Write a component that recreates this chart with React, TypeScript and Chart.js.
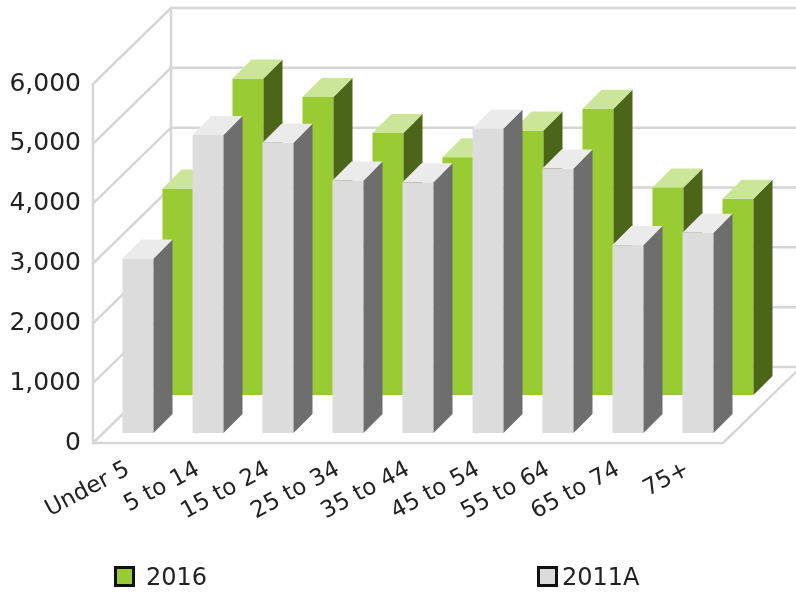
import React, { useEffect, useRef } from "react";
import { Chart, registerables } from "chart.js";

Chart.register(...registerables);

const categories = ["Under 5", "5 to 14", "15 to 24", "25 to 34", "35 to 44", "45 to 54", "55 to 64", "65 to 74", "75+"];
const series2016 = [3450, 5290, 4980, 4380, 3975, 4420, 4785, 3470, 3280];
const series2011A = [2915, 4980, 4850, 4220, 4190, 5090, 4420, 3140, 3345];
const yTicks = [0, 1000, 2000, 3000, 4000, 5000, 6000];

const FONT = "'DejaVu Sans', Verdana, sans-serif";
const TEXT = "#222222";
const WALL = "#d6d6d6";

// 3D geometry (pixels)
const WALL_DX = 78;
const WALL_DY = -76;
const BAR_DEPTH = 19;
const ROW_OFFSETS = [
  { ox: 50, oy: -48 }, // 2016 (back row)
  { ox: 10, oy: -10 }, // 2011A (front row)
];
const COLORS = [
  { front: "#99cc33", side: "#4c6619", top: "#cce699" },
  { front: "#dcdcdc", side: "#6e6e6e", top: "#ebebeb" },
];

const threeD = {
  id: "threeD",
  beforeDatasetsDraw(chart: any) {
    const { ctx, chartArea, scales } = chart;
    const ys = scales.y;
    const left = chartArea.left;
    const right = chartArea.right;
    const base = ys.getPixelForValue(0);
    ctx.save();
    ctx.strokeStyle = WALL;
    ctx.lineWidth = 2.5;
    ctx.lineCap = "round";
    yTicks.forEach((v) => {
      const yp = ys.getPixelForValue(v);
      ctx.beginPath();
      ctx.moveTo(left, yp);
      ctx.lineTo(left + WALL_DX, yp + WALL_DY);
      ctx.lineTo(right + WALL_DX, yp + WALL_DY);
      ctx.stroke();
    });
    const top = ys.getPixelForValue(yTicks[yTicks.length - 1]);
    ctx.beginPath();
    ctx.moveTo(left, top);
    ctx.lineTo(left, base);
    ctx.stroke();
    ctx.beginPath();
    ctx.moveTo(left + WALL_DX, top + WALL_DY);
    ctx.lineTo(left + WALL_DX, base + WALL_DY);
    ctx.stroke();
    ctx.beginPath();
    ctx.moveTo(left, base);
    ctx.lineTo(right, base);
    ctx.lineTo(right + WALL_DX, base + WALL_DY);
    ctx.stroke();
    ctx.restore();

    ctx.save();
    [0, 1].forEach((di) => {
      const meta = chart.getDatasetMeta(di);
      const { ox, oy } = ROW_OFFSETS[di];
      const c = COLORS[di];
      const d = BAR_DEPTH;
      meta.data.forEach((el: any) => {
        const p = el.getProps(["x", "y", "base", "width"], true);
        const l = p.x - p.width / 2 + ox;
        const r = p.x + p.width / 2 + ox;
        const t = p.y + oy;
        const b = p.base + oy;
        ctx.fillStyle = c.front;
        ctx.fillRect(l, t, r - l, b - t);
        ctx.beginPath();
        ctx.moveTo(r, t);
        ctx.lineTo(r + d, t - d);
        ctx.lineTo(r + d, b - d);
        ctx.lineTo(r, b);
        ctx.closePath();
        ctx.fillStyle = c.side;
        ctx.fill();
        ctx.beginPath();
        ctx.moveTo(l, t);
        ctx.lineTo(l + d, t - d);
        ctx.lineTo(r + d, t - d);
        ctx.lineTo(r, t);
        ctx.closePath();
        ctx.fillStyle = c.top;
        ctx.fill();
      });
    });
    ctx.restore();
  },
};

export default function App() {
  const ref = useRef<HTMLCanvasElement | null>(null);
  useEffect(() => {
    if (!ref.current) return;
    const chart = new Chart(ref.current, {
      type: "bar",
      data: {
        labels: categories,
        datasets: [
          { label: "2016", data: series2016, backgroundColor: "rgba(0,0,0,0)", borderWidth: 0, grouped: false } as any,
          { label: "2011A", data: series2011A, backgroundColor: "rgba(0,0,0,0)", borderWidth: 0, grouped: false } as any,
        ],
      },
      options: {
        animation: false,
        responsive: true,
        maintainAspectRatio: false,
        events: [],
        layout: { padding: { top: 84, right: 73, left: 0, bottom: 0 } },
        datasets: { bar: { categoryPercentage: 1, barPercentage: 0.443 } },
        plugins: { legend: { display: false }, tooltip: { enabled: false } },
        scales: {
          x: {
            grid: { display: false, drawTicks: false },
            border: { display: false },
            ticks: {
              autoSkip: false,
              minRotation: 28,
              maxRotation: 28,
              padding: 13,
              color: TEXT,
              font: { family: FONT, size: 23 },
            },
            afterFit: (s: any) => {
              s.height = 154;
            },
          },
          y: {
            min: 0,
            max: 6000,
            grid: { display: false, drawTicks: false },
            border: { display: false },
            ticks: {
              stepSize: 1000,
              padding: 12,
              color: TEXT,
              font: { family: FONT, size: 25 },
              callback: (v: any) => Number(v).toLocaleString("en-US"),
            },
            afterFit: (s: any) => {
              s.width = 93;
            },
          },
        },
      },
      plugins: [threeD],
    });
    return () => chart.destroy();
  }, []);

  const legendText: React.CSSProperties = {
    position: "absolute",
    top: 565,
    fontFamily: FONT,
    fontSize: 24,
    color: TEXT,
    lineHeight: "24px",
  };
  const box = (left: number, fill: string): React.CSSProperties => ({
    position: "absolute",
    left,
    top: 566,
    width: 15,
    height: 15,
    border: "3.5px solid #111",
    background: fill,
  });

  return (
    <div style={{ position: "fixed", left: 0, top: 0, width: 796, height: 597, background: "#fff" }}>
      <canvas ref={ref} />
      <div style={box(114, COLORS[0].front)} />
      <div style={{ ...legendText, left: 146 }}>2016</div>
      <div style={box(537, COLORS[1].front)} />
      <div style={{ ...legendText, left: 562 }}>2011A</div>
    </div>
  );
}
